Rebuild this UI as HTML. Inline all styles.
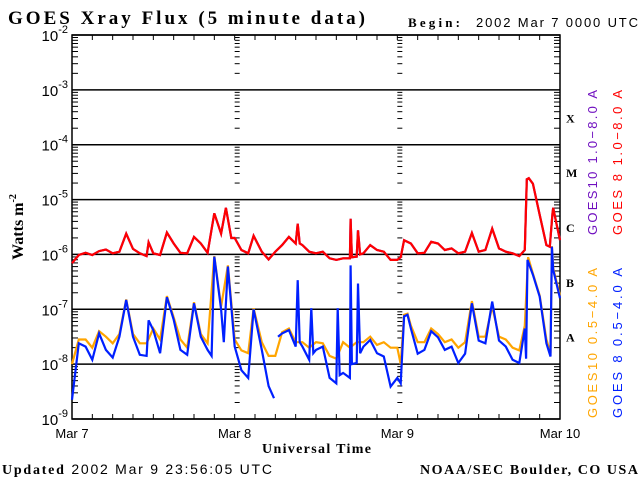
<!DOCTYPE html>
<html><head><meta charset="utf-8"><style>
body{margin:0;background:#fff;width:640px;height:480px;overflow:hidden}
svg text{font-family:"Liberation Sans",sans-serif}
.sf{font-family:"Liberation Serif",serif;font-weight:bold}
</style></head><body>
<svg id="chart" width="640" height="480" xmlns="http://www.w3.org/2000/svg">
<text class="sf" x="8" y="24" font-size="19" textLength="357" lengthAdjust="spacing">GOES Xray Flux (5 minute data)</text>
<text class="sf" x="408" y="27" font-size="13" textLength="52">Begin:</text>
<text x="476" y="27" font-size="13" textLength="162">2002 Mar 7 0000 UTC</text>
<text class="sf" transform="translate(23,227) rotate(-90)" text-anchor="middle" font-size="16">Watts m<tspan font-size="10" dy="-7">-2</tspan></text>
<text class="sf" x="262" y="453" font-size="14" textLength="109">Universal Time</text>
<text x="2" y="474" font-size="14" textLength="270"><tspan class="sf">Updated</tspan> 2002 Mar  9 23:56:05 UTC</text>
<text class="sf" x="420" y="474" font-size="14" textLength="218">NOAA/SEC Boulder, CO USA</text>
<g id="axes"></g><g id="series"></g>
<g font-size="13">
<text transform="translate(597,235) rotate(-90)" textLength="145" fill="#7010c0">GOES10 1.0−8.0 A</text>
<text transform="translate(622,235) rotate(-90)" textLength="145" fill="#ff0000">GOES 8 1.0−8.0 A</text>
<text transform="translate(597,418) rotate(-90)" textLength="150" fill="#ffa500">GOES10 0.5−4.0 A</text>
<text transform="translate(622,418) rotate(-90)" textLength="150" fill="#0020ff">GOES 8 0.5−4.0 A</text>
</g>
</svg>
<script>
const yTicks=[-2,-3,-4,-5,-6,-7,-8,-9];
const classLabels=["X","M","C","B","A"];
const classExp=[-3.5,-4.5,-5.5,-6.5,-7.5];
const dayLabels=["Mar 7","Mar 8","Mar 9","Mar 10"];
const red=[[0,-6.16],[1,-6.01],[2,-5.97],[3,-6.01],[4,-5.94],[5,-5.91],[6,-5.98],[7,-5.95],[8,-5.62],[9,-5.9],[10,-5.98],[11,-6.03],[11.3,-5.78],[12,-5.98],[13,-6.01],[14,-5.6],[15,-5.8],[16,-5.97],[17,-5.98],[18,-5.68],[19,-5.8],[20,-5.97],[21,-5.25],[22,-5.62],[22.7,-5.15],[23.5,-5.7],[24,-5.7],[25,-5.92],[26,-5.98],[26.8,-5.66],[28,-5.95],[29,-6.09],[30,-5.95],[31,-5.83],[32,-5.68],[33,-5.8],[33.3,-5.44],[33.6,-5.8],[34,-5.83],[35,-5.95],[36,-5.98],[37,-5.95],[38,-6.07],[39,-6.1],[40,-6.07],[41,-6.07],[41.1,-5.35],[41.3,-6.05],[42,-6.04],[42.2,-5.56],[42.5,-6.0],[43,-5.98],[44,-5.83],[45,-5.92],[46,-5.95],[47,-6.1],[48,-6.1],[48.5,-6.05],[49,-5.74],[50,-5.8],[51,-5.98],[52,-5.97],[53,-5.77],[54,-5.8],[55,-5.92],[56,-5.89],[57,-5.98],[58,-5.95],[59,-5.61],[60,-5.95],[61,-5.92],[62,-5.53],[63,-5.89],[64,-5.95],[65,-5.98],[66,-6.03],[66.8,-5.92],[67.1,-4.63],[67.4,-4.61],[68,-4.71],[69,-5.28],[70,-5.83],[70.5,-5.86],[70.9,-5.25],[71,-5.15],[71.5,-5.45],[72,-5.74]];
const blue=[[0,-8.65],[1,-7.62],[2,-7.68],[3,-7.92],[4,-7.44],[5,-7.74],[6,-7.88],[7,-7.5],[8,-6.83],[9,-7.5],[10,-7.83],[11,-7.85],[11.3,-7.2],[12,-7.38],[13,-7.8],[14,-6.78],[15,-7.19],[16,-7.74],[17,-7.83],[18,-6.89],[19,-7.5],[20,-7.74],[20.6,-7.85],[21,-6.04],[22,-7.0],[22.4,-7.6],[23,-6.22],[24,-7.68],[25,-8.11],[26,-8.25],[26.8,-7.0],[28,-7.74],[29,-8.4],[29.8,-8.62],[30,null],[30.4,-7.5],[31,-7.44],[32,-7.38],[33,-7.68],[33.3,-6.47],[33.6,-7.6],[34,-7.68],[35,-7.92],[35.3,-6.98],[35.6,-7.8],[36,-7.74],[37,-7.68],[38,-8.25],[39,-8.35],[39.2,-6.98],[39.5,-8.2],[40,-8.16],[41,-8.25],[41.1,-6.2],[41.3,-8.0],[42,-7.98],[42.2,-6.53],[42.5,-7.8],[43,-7.68],[44,-7.56],[45,-7.8],[46,-7.86],[47,-8.41],[48,-8.25],[48.5,-8.35],[49,-7.13],[49.5,-7.1],[50,-7.35],[51,-7.81],[52,-7.74],[53,-7.4],[54,-7.51],[55,-7.74],[56,-7.68],[57,-7.98],[58,-7.81],[59,-6.89],[60,-7.57],[61,-7.62],[62,-6.86],[63,-7.57],[64,-7.68],[65,-7.92],[66,-7.98],[66.8,-7.35],[67,-7.9],[67.2,-6.1],[68,-6.37],[69,-6.77],[70,-7.62],[70.6,-7.86],[70.8,-5.86],[71,-6.28],[72,-6.8]];
const orange=[[0,-8.0],[1,-7.55],[2,-7.55],[3,-7.7],[4,-7.4],[5,-7.5],[6,-7.62],[7,-7.45],[8,-6.82],[9,-7.45],[10,-7.62],[11,-7.62],[12,-7.35],[13,-7.55],[14,-6.76],[15,-7.15],[16,-7.55],[17,-7.7],[18,-6.87],[19,-7.45],[20,-7.62],[21,-6.03],[22,-6.95],[23,-6.2],[24,-7.55],[25,-7.75],[26,-7.8],[26.8,-6.98],[28,-7.6],[29,-7.85],[30,-7.85],[31,-7.42],[32,-7.35],[33,-7.6],[34,-7.6],[35,-7.7],[36,-7.6],[37,-7.62],[38,-7.85],[39,-7.9],[40,-7.6],[41,-7.7],[42,-7.6],[43,-7.6],[44,-7.5],[45,-7.65],[46,-7.6],[47,-7.7],[48,-7.7],[48.5,-8.0],[49,-7.1],[49.5,-7.08],[50,-7.3],[51,-7.6],[52,-7.6],[53,-7.35],[54,-7.45],[55,-7.6],[56,-7.55],[57,-7.7],[58,-7.6],[59,-6.85],[60,-7.5],[61,-7.5],[62,-6.95],[63,-7.5],[64,-7.55],[65,-7.7],[66,-7.75],[66.8,-7.3],[67.3,-6.05],[68,-6.35],[69,-6.75],[70,-7.55],[70.6,-7.8],[70.8,-5.85],[71,-6.25],[72,-6.75]];
const purple=red;

const L=72,R=560,T=35,B=419;
const xs=h=>L+(R-L)*h/72;
const ys=e=>T+(B-T)*(-2-e)/7;
const NS="http://www.w3.org/2000/svg";
function mk(tag,attrs,parent){const el=document.createElementNS(NS,tag);for(const k in attrs)el.setAttribute(k,attrs[k]);parent.appendChild(el);return el;}
const ax=document.getElementById('axes'),sg=document.getElementById('series');
const frame=mk('rect',{x:L,y:T,width:R-L,height:B-T,fill:'none',stroke:'#000','stroke-width':1.5},ax);


yTicks.forEach(e=>{
  const y=ys(e);
  const g=mk('line',{x1:L,x2:R,y1:y,y2:y,stroke:'#000','stroke-width':1.5},ax);
  
  
  const t=mk('text',{x:L-4,y:y+6,'text-anchor':'end','font-size':15},ax);
  
  
  t.innerHTML='10<tspan font-size="11" dy="-8">'+e+'</tspan>';
  if(e>-9){for(let m=2;m<=9;m++){const yy=ys(e-1+Math.log10(m));
    [[L,6],[R,-6],[xs(24),5],[xs(48),5]].forEach(([x,d])=>{
      const tk=mk('line',{x1:x,x2:x+d,y1:yy,y2:yy,stroke:'#000','stroke-width':1},ax);
      
      
    });}}
});
for(let h=3;h<72;h+=3){const x=xs(h);
  [[T,5],[B,-5]].forEach(([y,d])=>{const tk=mk('line',{x1:x,x2:x,y1:y,y2:y+d,stroke:'#000','stroke-width':1},ax);
  
  });}
dayLabels.forEach((d,i)=>{const t=mk('text',{x:xs(i*24),y:438,'text-anchor':'middle','font-size':13},ax);
  
  
  t.textContent=d;});
classLabels.forEach((c,i)=>{const t=mk('text',{x:566,y:ys(classExp[i])+5,'font-size':12,'class':'sf'},ax);
  
  
  t.textContent=c;});
function draw(data,color,name){let d='',pen=false;
  data.forEach(([h,e])=>{if(e===null){pen=false;return;}d+=(pen?'L':'M')+xs(h).toFixed(1)+' '+ys(e).toFixed(1);pen=true;});
  const p=mk('path',{d:d,fill:'none',stroke:color,'stroke-width':2.2,'stroke-linejoin':'miter'},sg);
  
  }
draw(orange,'#ffa500','goes10-short-line');
draw(blue,'#0020ff','goes8-short-line');
draw(purple,'#7010c0','goes10-long-line');
draw(red,'#ff0000','goes8-long-line');
</script>
</body></html>
